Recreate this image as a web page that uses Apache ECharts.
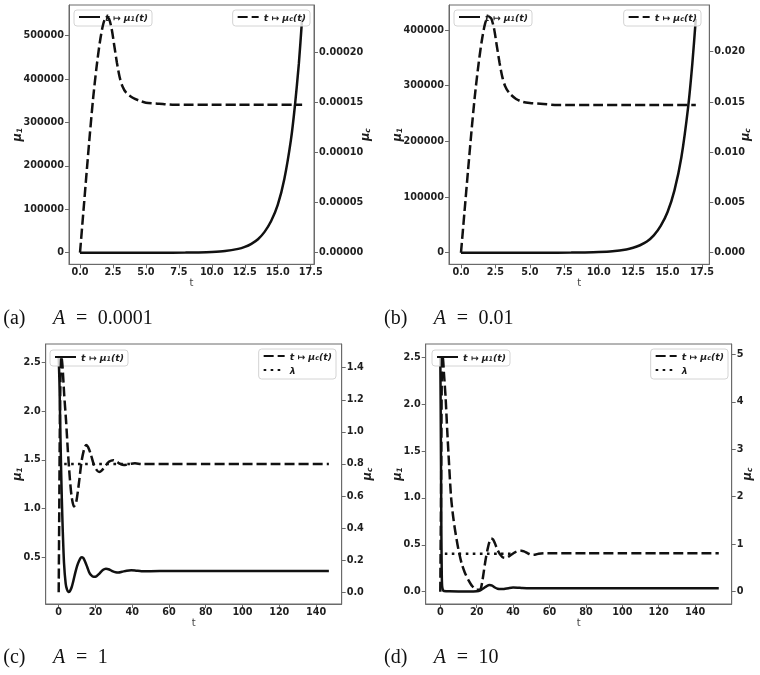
<!DOCTYPE html>
<html><head><meta charset="utf-8">
<script src="https://cdn.jsdelivr.net/npm/echarts@6/dist/echarts.min.js"></script>
<style>html,body{margin:0;padding:0;background:#fff}#c{width:760px;height:675px}</style>
</head><body><div id="c"></div>
<script>
// ---------- Panel (a): A = 0.0001 ----------
const a_t1  = [0, 2, 4, 6, 8, 9, 10, 11, 12, 12.5, 13, 13.5, 14, 14.5, 15, 15.5, 16, 16.3, 16.6, 16.85];
const a_mu1 = [0, 2, 10, 55, 290, 680, 1600, 3700, 8800, 13400, 20500, 31000, 48000, 73000, 110000, 170000, 260000, 338000, 435000, 540000];
const a_t2  = [0, 0.25, 0.5, 0.75, 1, 1.25, 1.5, 1.75, 2, 2.2, 2.4, 2.6, 2.8, 3, 3.2, 3.5, 4, 4.5, 5, 6, 7, 8, 10, 12, 14, 16.85];
const a_muc = [0, 0.00004, 0.00008, 0.000119, 0.000155, 0.000185, 0.00021, 0.000228, 0.000236, 0.000234, 0.000224, 0.000207, 0.00019, 0.000176, 0.000167, 0.00016, 0.000155, 0.000152, 0.00015, 0.000149, 0.000148, 0.000148, 0.000148, 0.000148, 0.000148, 0.000148];

// ---------- Panel (b): A = 0.01 ----------
const b_t1  = [0, 2, 4, 6, 8, 9, 10, 11, 12, 12.5, 13, 13.5, 14, 14.5, 15, 15.5, 16, 16.5, 16.8, 17.05];
const b_mu1 = [0, 1, 6, 35, 190, 440, 1050, 2500, 5700, 8800, 13400, 20000, 31000, 48000, 73000, 112000, 171000, 263000, 340000, 420000];
const b_t2  = [0, 0.25, 0.5, 0.75, 1, 1.25, 1.5, 1.75, 2, 2.2, 2.4, 2.6, 2.8, 3, 3.2, 3.5, 4, 4.5, 5, 6, 7, 8, 10, 12, 14, 17.05];
const b_muc = [0, 0.004, 0.008, 0.0119, 0.0155, 0.0185, 0.021, 0.0228, 0.0235, 0.0233, 0.0223, 0.0206, 0.0189, 0.0175, 0.0166, 0.0159, 0.0153, 0.015, 0.0149, 0.0148, 0.0147, 0.0147, 0.0147, 0.0147, 0.0147, 0.0147];

// ---------- Panel (c): A = 1 ----------
const c_t1  = [0, 0.4, 0.8, 1.25, 1.7, 2.2, 2.9, 3.8, 4.5, 5.2, 6, 7, 8, 9, 10, 11, 12, 12.7, 13.5, 14.5, 15.5, 16.5, 17.5, 19, 20.5, 22, 24, 25.7, 27.5, 29.5, 31, 32.5, 34.5, 37, 39.5, 42, 45, 50, 60, 80, 100, 120, 147];
const c_mu1 = [2.56, 2.3, 1.9, 1.46, 1.1, 0.78, 0.44, 0.23, 0.17, 0.145, 0.15, 0.19, 0.26, 0.34, 0.41, 0.46, 0.495, 0.5, 0.49, 0.45, 0.4, 0.35, 0.32, 0.3, 0.305, 0.33, 0.37, 0.383, 0.375, 0.355, 0.347, 0.345, 0.352, 0.362, 0.366, 0.363, 0.358, 0.358, 0.36, 0.36, 0.36, 0.36, 0.36];
const c_t2  = [0, 0.3, 0.6, 1.0, 1.5, 2, 2.5, 3, 4, 5, 6, 7, 8.3, 9.5, 11, 12.5, 14, 15, 16, 17.5, 19, 20.5, 22, 23.5, 25.5, 27.5, 29.7, 31.5, 33.5, 35.5, 37.5, 39.5, 41.5, 45, 50, 60, 80, 100, 120, 147];
const c_muc = [0, 0.5, 1.0, 1.35, 1.47, 1.42, 1.33, 1.23, 1.07, 0.88, 0.72, 0.6, 0.535, 0.56, 0.68, 0.82, 0.9, 0.918, 0.905, 0.86, 0.8, 0.765, 0.75, 0.76, 0.79, 0.815, 0.824, 0.815, 0.8, 0.793, 0.797, 0.802, 0.804, 0.8, 0.8, 0.8, 0.8, 0.8, 0.8, 0.8];
const c_tl  = [3, 40];
const c_lam = [0.8, 0.8];

// ---------- Panel (d): A = 10 ----------
const d_t1  = [0, 0.2, 0.4, 0.6, 0.8, 1, 1.5, 2, 5, 10, 15, 20, 22, 24, 25.5, 27, 28.5, 30, 31.5, 33, 35, 37.5, 40, 42.5, 45, 50, 60, 80, 100, 120, 153];
const d_mu1 = [2.5, 2.0, 1.3, 0.6, 0.2, 0.06, 0.015, 0.008, 0.004, 0.003, 0.003, 0.005, 0.015, 0.04, 0.06, 0.071, 0.065, 0.045, 0.032, 0.028, 0.03, 0.038, 0.044, 0.043, 0.039, 0.037, 0.037, 0.037, 0.037, 0.037, 0.037];
const d_t2  = [0, 0.5, 1, 1.5, 2, 2.9, 3.8, 4.8, 5.9, 7, 8.1, 9.9, 11.7, 13.5, 15.4, 17.5, 20, 22, 23, 24, 25, 26, 27, 28, 29, 30, 31, 32, 33, 34.5, 36, 37.5, 39, 41, 43, 44.5, 46, 48, 50, 52, 54, 57, 60, 80, 100, 120, 153];
const d_muc = [0, 2.5, 4.97, 4.9, 4.6, 4.1, 3.4, 2.7, 2.0, 1.6, 1.3, 0.9, 0.6, 0.4, 0.25, 0.12, 0.04, 0.05, 0.2, 0.45, 0.7, 0.9, 1.05, 1.12, 1.1, 1.02, 0.92, 0.84, 0.78, 0.72, 0.71, 0.74, 0.78, 0.83, 0.86, 0.865, 0.85, 0.81, 0.78, 0.78, 0.8, 0.81, 0.81, 0.81, 0.81, 0.81, 0.81];
const d_tl  = [2.5, 40];
const d_lam = [0.8, 0.8];

// ---------- Tick labels ----------
const xTicksAB = [0, 2.5, 5, 7.5, 10, 12.5, 15, 17.5];
const xTicksCD = [0, 20, 40, 60, 80, 100, 120, 140];
const aLeftTicks  = [0, 100000, 200000, 300000, 400000, 500000];
const aRightTicks = [0, 0.00005, 0.0001, 0.00015, 0.0002];
const bLeftTicks  = [0, 100000, 200000, 300000, 400000];
const bRightTicks = [0, 0.005, 0.01, 0.015, 0.02];
const cLeftTicks  = [0.5, 1.0, 1.5, 2.0, 2.5];
const cRightTicks = [0, 0.2, 0.4, 0.6, 0.8, 1.0, 1.2, 1.4];
const dLeftTicks  = [0, 0.5, 1.0, 1.5, 2.0, 2.5];
const dRightTicks = [0, 1, 2, 3, 4, 5];

// ---------- Captions ----------
const captions = [
  {tag: '(a)', val: '0.0001'},
  {tag: '(b)', val: '0.01'},
  {tag: '(c)', val: '1'},
  {tag: '(d)', val: '10'}
];

const FRAME = '#6a6a6a';
const LBL = '#1e1e1e';
const SANS = '"DejaVu Sans", sans-serif';
const SERIF = '"Liberation Serif", "DejaVu Serif", serif';

function pairs(t, v) { return t.map((x, i) => [x, v[i]]); }

const panels = [
  {grid: {left: 69, top: 5, width: 245, height: 259.3},
   x: [-0.835, 17.75, xTicksAB, 1],
   yl: [-26700, 570700, aLeftTicks, 0, 45], yr: [-0.0000116, 0.0002477, aRightTicks, 5, 44.5]},
  {grid: {left: 449, top: 5, width: 260.3, height: 259.3},
   x: [-0.87, 18.03, xTicksAB, 1],
   yl: [-20840, 444950, bLeftTicks, 0, 45], yr: [-0.00115, 0.02465, bRightTicks, 3, 29]},
  {grid: {left: 45.7, top: 344, width: 296, height: 260},
   x: [-7.07, 153.98, xTicksCD, 0],
   yl: [0.021, 2.688, cLeftTicks, 1, 22], yr: [-0.073, 1.548, cRightTicks, 1, 18]},
  {grid: {left: 425.7, top: 344, width: 306, height: 260},
   x: [-8.02, 160.1, xTicksCD, 0],
   yl: [-0.131, 2.642, dLeftTicks, 1, 22], yr: [-0.259, 5.217, dRightTicks, 0, 8.5]}
];

const tickFont = {fontFamily: SANS, fontWeight: 'bold', fontSize: 9.7, color: LBL};
const nameRich = {
  m: {fontFamily: SANS, fontWeight: 'bold', fontStyle: 'italic', fontSize: 11.5, color: LBL, verticalAlign: 'bottom', lineHeight: 14},
  s: {fontFamily: SANS, fontWeight: 'bold', fontStyle: 'italic', fontSize: 7.5, color: LBL, verticalAlign: 'bottom', lineHeight: 9}
};

const grids = [], xAxes = [], yAxes = [];
panels.forEach((p, i) => {
  grids.push(Object.assign({show: true, borderColor: FRAME, borderWidth: 1, containLabel: false, outerBoundsMode: 'none'}, p.grid));
  xAxes.push({
    type: 'value', gridIndex: i, min: p.x[0], max: p.x[1], position: 'bottom',
    axisLine: {show: true, onZero: false, lineStyle: {color: FRAME, width: 1}},
    axisTick: {show: true, length: 4, customValues: p.x[2], lineStyle: {color: FRAME}},
    axisLabel: Object.assign({customValues: p.x[2], margin: 3.5, formatter: v => Number(v).toFixed(p.x[3])}, tickFont),
    splitLine: {show: false},
    name: 't', nameLocation: 'middle', nameGap: 14, nameMoveOverlap: false,
    nameTextStyle: {fontFamily: SANS, fontSize: 10, color: '#444'}
  });
  [['left', p.yl, '1'], ['right', p.yr, 'c']].forEach(([pos, y, sub]) => {
    yAxes.push({
      type: 'value', gridIndex: i, min: y[0], max: y[1], position: pos,
      axisLine: {show: true, onZero: false, lineStyle: {color: FRAME, width: 1}},
      axisTick: {show: true, length: 4, customValues: y[2], lineStyle: {color: FRAME}},
      axisLabel: Object.assign({customValues: y[2], margin: 5, formatter: v => Number(v).toFixed(y[3])}, tickFont),
      splitLine: {show: false},
      name: '{m|μ}{s|' + sub + '}', nameLocation: 'middle', nameGap: y[4], nameRotate: 90, nameMoveOverlap: false,
      nameTextStyle: {rich: nameRich}
    });
  });
});

const SOLID = 'solid', DASH = [10, 4], DOT = [2.6, 4.4];
function mk(name, gi, yi, t, v, type, z) {
  return {
    name, type: 'line', xAxisIndex: gi, yAxisIndex: yi, data: pairs(t, v),
    symbol: 'none', showSymbol: false, smooth: 0.25, z,
    lineStyle: {color: '#111', width: 2.5, type},
    itemStyle: {color: '#111'}
  };
}
const series = [
  mk('a_mu1', 0, 0, a_t1, a_mu1, SOLID, 2),
  mk('a_muc', 0, 1, a_t2, a_muc, DASH, 4),
  mk('b_mu1', 1, 2, b_t1, b_mu1, SOLID, 2),
  mk('b_muc', 1, 3, b_t2, b_muc, DASH, 4),
  mk('c_mu1', 2, 4, c_t1, c_mu1, SOLID, 2),
  mk('c_muc', 2, 5, c_t2, c_muc, DASH, 4),
  mk('c_lam', 2, 5, c_tl, c_lam, DOT, 4),
  mk('d_mu1', 3, 6, d_t1, d_mu1, SOLID, 2),
  mk('d_muc', 3, 7, d_t2, d_muc, DASH, 4),
  mk('d_lam', 3, 7, d_tl, d_lam, DOT, 4)
];

const legRich = {
  i: {fontFamily: SANS, fontWeight: 'bold', fontStyle: 'italic', fontSize: 9.3, color: LBL, verticalAlign: 'bottom', lineHeight: 12},
  s: {fontFamily: SANS, fontWeight: 'bold', fontStyle: 'italic', fontSize: 6.5, color: LBL, verticalAlign: 'bottom', lineHeight: 8}
};
function legFmt(n) {
  if (n.endsWith('mu1')) return '{i|t ↦ μ}{s|1}{i|(t)}';
  if (n.endsWith('muc')) return '{i|t ↦ μ}{s|c}{i|(t)}';
  return '{i|λ}';
}
const legBase = {
  backgroundColor: 'rgba(255,255,255,0.8)', borderColor: '#d4d4d4', borderWidth: 1, borderRadius: 3,
  padding: [3, 4, 3, 4], itemWidth: 21, itemHeight: 10, itemGap: 4, selectedMode: false, orient: 'vertical',
  itemStyle: {color: 'rgba(0,0,0,0)', borderWidth: 0, opacity: 0},
  formatter: legFmt, textStyle: {rich: legRich}
};
const legends = [
  {data: ['a_mu1'], left: 74, top: 10, z: 3},
  {data: ['a_muc'], right: 450, top: 10, z: 5},
  {data: ['b_mu1'], left: 454, top: 10, z: 3},
  {data: ['b_muc'], right: 59, top: 10, z: 5},
  {data: ['c_mu1'], left: 50, top: 350, z: 3},
  {data: ['c_muc', 'c_lam'], right: 424, top: 349, z: 5},
  {data: ['d_mu1'], left: 432, top: 350, z: 3},
  {data: ['d_muc', 'd_lam'], right: 32, top: 349, z: 5}
].map(l => Object.assign({}, legBase, l));

const capPos = [[3.3, 319], [384, 319], [3.3, 658], [384, 658]];
const graphics = [];
captions.forEach((c, i) => {
  const [x0, y0] = capPos[i];
  const base = {fontFamily: SERIF, fontSize: 20, fill: '#111', verticalAlign: 'middle'};
  graphics.push({type: 'text', x: x0, y: y0, style: Object.assign({text: c.tag}, base)});
  graphics.push({type: 'text', x: x0 + 49.7, y: y0, style: Object.assign({text: 'A', fontStyle: 'italic'}, base)});
  graphics.push({type: 'text', x: x0 + 72.7, y: y0, style: Object.assign({text: '='}, base)});
  graphics.push({type: 'text', x: x0 + 94.5, y: y0, style: Object.assign({text: c.val}, base)});
});

const chart = echarts.init(document.getElementById('c'), null, {renderer: 'canvas'});
chart.setOption({
  animation: false,
  backgroundColor: '#fff',
  grid: grids, xAxis: xAxes, yAxis: yAxes,
  legend: legends,
  series,
  graphic: graphics
});
</script></body></html>
